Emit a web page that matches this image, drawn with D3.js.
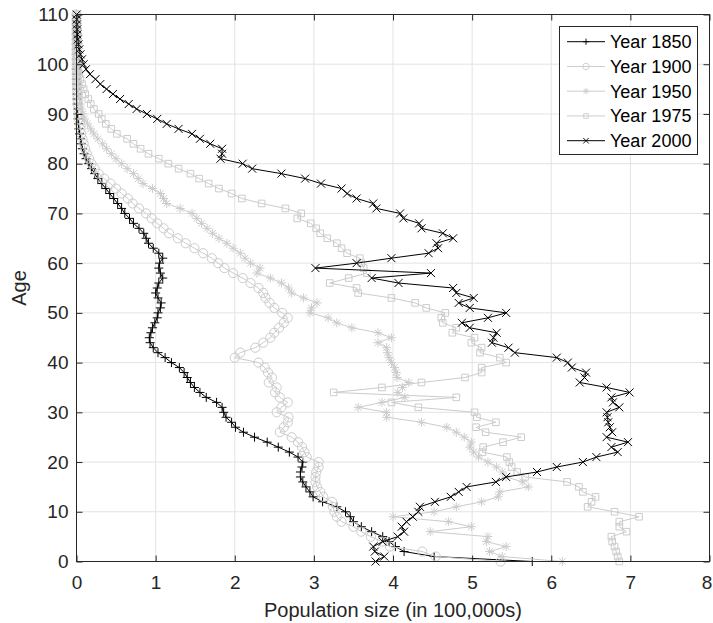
<!doctype html>
<html lang="en">
    <head>
        <meta charset="utf-8">
        <title>Population by age</title>
        <script type="text/javascript" src="https://cdn.jsdelivr.net/npm/d3@7"></script>
        <style>
            body { margin: 0; background: #fff; }
            text { font-family: "Liberation Sans", Arial, Helvetica, sans-serif; }
        </style>
    </head>
    <body>
        <script type="text/javascript">
            // ages 0..110, one value per age (population in 100,000s)
            var ages = d3.range(0, 111);

            var pop1850 = [5.76, 4.52, 4.14, 4.03, 3.95, 3.87, 3.73, 3.60, 3.50, 3.46,
                           3.40, 3.29, 3.11, 2.99, 2.95, 2.90, 2.86, 2.83, 2.83, 2.85,
                           2.86, 2.80, 2.69, 2.55, 2.41, 2.25, 2.11, 2.01, 1.96, 1.89,
                           1.86, 1.84, 1.77, 1.64, 1.56, 1.49, 1.44, 1.40, 1.36, 1.30,
                           1.20, 1.12, 1.03, 0.97, 0.93, 0.92, 0.94, 0.96, 0.99, 1.02,
                           1.03, 1.06, 1.07, 1.03, 1.00, 1.02, 1.04, 1.09, 1.06, 1.04,
                           1.05, 1.09, 1.04, 0.97, 0.91, 0.88, 0.85, 0.79, 0.72, 0.67,
                           0.61, 0.57, 0.52, 0.47, 0.42, 0.37, 0.32, 0.27, 0.23, 0.19,
                           0.155, 0.12, 0.095, 0.075, 0.06, 0.05, 0.04, 0.03, 0.025, 0.02,
                           0.015, 0.012, 0.009, 0.007, 0.005, 0.004, 0.003, 0.002, 0.002, 0.001,
                           0.001, 0.001, 0.001, 0, 0, 0, 0, 0, 0, 0, 0];

            var pop1900 = [5.36, 4.54, 4.37, 3.96, 3.86, 3.72, 3.60, 3.50, 3.35, 3.29,
                           3.26, 3.24, 3.23, 3.12, 3.08, 3.04, 3.02, 3.02, 3.03, 3.06,
                           3.06, 2.91, 2.88, 2.85, 2.80, 2.72, 2.57, 2.62, 2.67, 2.68,
                           2.53, 2.59, 2.67, 2.57, 2.51, 2.53, 2.43, 2.47, 2.42, 2.38,
                           2.30, 2.00, 2.07, 2.26, 2.36, 2.45, 2.50, 2.56, 2.62, 2.67,
                           2.60, 2.50, 2.44, 2.39, 2.36, 2.30, 2.20, 2.10, 1.98, 1.87,
                           1.79, 1.71, 1.60, 1.49, 1.38, 1.28, 1.17, 1.10, 1.02, 0.95,
                           0.88, 0.79, 0.71, 0.65, 0.57, 0.50, 0.43, 0.35, 0.28, 0.23,
                           0.19, 0.16, 0.13, 0.11, 0.09, 0.075, 0.06, 0.05, 0.04, 0.03,
                           0.025, 0.02, 0.015, 0.011, 0.008, 0.006, 0.004, 0.003, 0.002, 0.001,
                           0.001, 0.001, 0, 0, 0, 0, 0, 0, 0, 0, 0];

            var pop1950 = [6.14, 5.38, 5.22, 5.43, 5.18, 5.20, 4.47, 4.99, 4.70, 4.00,
                           4.52, 4.80, 5.12, 5.33, 5.35, 5.71, 5.64, 5.43, 5.38, 5.31,
                           5.20, 5.08, 5.02, 4.97, 4.99, 4.90, 4.80, 4.68, 4.36, 3.92,
                           3.92, 3.56, 3.86, 4.15, 4.06, 4.12, 4.20, 4.05, 4.04, 4.02,
                           3.98, 3.95, 3.93, 3.92, 3.81, 3.98, 3.81, 3.48, 3.29, 3.18,
                           2.95, 2.97, 3.04, 2.87, 2.72, 2.68, 2.59, 2.45, 2.28, 2.32,
                           2.20, 2.13, 2.07, 1.98, 1.90, 1.80, 1.72, 1.65, 1.58, 1.52,
                           1.46, 1.31, 1.14, 1.10, 1.06, 0.96, 0.84, 0.78, 0.72, 0.64,
                           0.57, 0.50, 0.44, 0.38, 0.33, 0.27, 0.22, 0.18, 0.14, 0.10,
                           0.08, 0.06, 0.045, 0.035, 0.025, 0.018, 0.012, 0.008, 0.005, 0.003,
                           0.002, 0.001, 0, 0, 0, 0, 0, 0, 0, 0, 0];

            var pop1975 = [6.86, 6.84, 6.82, 6.80, 6.77, 6.76, 6.95, 6.86, 6.86, 7.11,
                           6.80, 6.46, 6.51, 6.56, 6.40, 6.35, 6.20, 5.67, 5.57, 5.50,
                           5.47, 5.44, 5.13, 5.14, 5.39, 5.62, 5.17, 5.05, 5.30, 5.06,
                           5.03, 4.32, 3.98, 4.80, 3.25, 3.86, 4.36, 4.91, 5.12, 5.12,
                           5.43, 5.35, 5.10, 5.12, 4.99, 5.03, 4.75, 4.80, 4.63, 4.61,
                           4.66, 4.42, 4.28, 3.98, 3.56, 3.54, 3.20, 3.44, 3.67, 3.63,
                           3.60, 3.58, 3.42, 3.35, 3.29, 3.17, 3.08, 3.03, 2.96, 2.79,
                           2.84, 2.64, 2.34, 2.09, 1.96, 1.80, 1.67, 1.55, 1.44, 1.29,
                           1.16, 1.04, 0.91, 0.81, 0.72, 0.64, 0.51, 0.44, 0.37, 0.32,
                           0.28, 0.22, 0.18, 0.15, 0.11, 0.09, 0.07, 0.05, 0.035, 0.025,
                           0.017, 0.011, 0.007, 0.004, 0.002, 0.001, 0, 0, 0, 0, 0];

            var pop2000 = [3.78, 3.89, 3.77, 3.75, 3.87, 4.06, 4.14, 4.11, 4.17, 4.25,
                           4.32, 4.34, 4.53, 4.73, 4.83, 4.93, 5.30, 5.43, 5.82, 6.07,
                           6.40, 6.57, 6.84, 6.76, 6.97, 6.70, 6.77, 6.74, 6.72, 6.71,
                           6.70, 6.86, 6.78, 6.76, 6.99, 6.70, 6.36, 6.42, 6.44, 6.26,
                           6.21, 6.07, 5.54, 5.46, 5.25, 5.27, 5.31, 4.97, 4.87, 5.20,
                           5.43, 4.97, 4.83, 5.02, 4.80, 4.76, 4.07, 3.73, 4.48, 3.02,
                           3.54, 3.98, 4.45, 4.57, 4.55, 4.76, 4.63, 4.36, 4.33, 4.13,
                           4.09, 3.79, 3.75, 3.54, 3.42, 3.35, 3.09, 2.89, 2.59, 2.22,
                           2.10, 1.82, 1.84, 1.84, 1.69, 1.56, 1.46, 1.29, 1.14, 1.02,
                           0.89, 0.76, 0.66, 0.55, 0.46, 0.38, 0.30, 0.24, 0.17, 0.12,
                           0.09, 0.07, 0.05, 0.035, 0.025, 0.017, 0.012, 0.008, 0.005, 0.003,
                           0.002];

            var years = ["Year 1850", "Year 1900", "Year 1950", "Year 1975", "Year 2000"];
            var xTicks = [0, 1, 2, 3, 4, 5, 6, 7, 8];
            var yTicks = [0, 10, 20, 30, 40, 50, 60, 70, 80, 90, 100, 110];

            var svgW = 713;
            var svgH = 623;
            var padding = {top: 14.5, right: 3.5, bottom: 61.5, left: 76.5};
            var w = svgW - padding.left - padding.right;
            var h = svgH - padding.top - padding.bottom;

            var axisColor = "#262626";
            var gray = "#cccccc";

            var markers = {
                plus:   "M-4.5,0H4.5M0,-4.5V4.5",
                circle: "M4.6,0A4.6,4.6 0 1,1 -4.6,0A4.6,4.6 0 1,1 4.6,0Z",
                star:   "M-4.5,0H4.5M0,-4.5V4.5M-3.3,-3.3L3.3,3.3M-3.3,3.3L3.3,-3.3",
                square: "M-3.3,-3.3H3.3V3.3H-3.3Z",
                cross:  "M-4,-4L4,4M-4,4L4,-4"
            };

            var series = [
                {name: years[0], values: pop1850, color: "#000000", marker: "plus"},
                {name: years[1], values: pop1900, color: gray, marker: "circle"},
                {name: years[2], values: pop1950, color: gray, marker: "star"},
                {name: years[3], values: pop1975, color: gray, marker: "square"},
                {name: years[4], values: pop2000, color: "#000000", marker: "cross"}
            ];
            series.forEach(s => {
                s.points = s.values.map((v, i) => ({age: ages[i], value: v}));
            });

            var xScale = d3.scaleLinear()
                           .domain([0, 8])
                           .range([0, w]);

            var yScale = d3.scaleLinear()
                           .domain([0, 110])
                           .range([h, 0]);

            var svg = d3.select("body")
                        .append("svg")
                        .attr("width", svgW)
                        .attr("height", svgH)
                        .append("g")
                        .attr("transform", "translate(" + padding.left + "," + padding.top + ")");

            // grid
            svg.append("g")
               .selectAll("line.gx")
               .data(xTicks)
               .enter()
               .append("line")
               .attr("x1", d => xScale(d))
               .attr("x2", d => xScale(d))
               .attr("y1", 0)
               .attr("y2", h)
               .attr("stroke", "#e3e3e3");

            svg.append("g")
               .selectAll("line.gy")
               .data(yTicks)
               .enter()
               .append("line")
               .attr("x1", 0)
               .attr("x2", w)
               .attr("y1", d => yScale(d))
               .attr("y2", d => yScale(d))
               .attr("stroke", "#e3e3e3");

            // series
            var line = d3.line()
                         .x(d => xScale(d.value))
                         .y(d => yScale(d.age));

            var groups = svg.selectAll("g.series")
                            .data(series)
                            .enter()
                            .append("g")
                            .attr("class", "series");

            groups.append("path")
                  .attr("d", d => line(d.points))
                  .attr("fill", "none")
                  .attr("stroke", d => d.color)
                  .attr("stroke-width", 1);

            groups.each(function (s) {
                d3.select(this)
                  .selectAll("path.m")
                  .data(s.points)
                  .enter()
                  .append("path")
                  .attr("class", "m")
                  .attr("d", markers[s.marker])
                  .attr("transform", d => "translate(" + xScale(d.value) + "," + yScale(d.age) + ")")
                  .attr("fill", "none")
                  .attr("stroke", s.color)
                  .attr("stroke-width", 1);
            });

            // axes (ticks inward on all four sides)
            var xAxis = d3.axisBottom(xScale)
                          .tickValues(xTicks)
                          .tickSize(-6)
                          .tickPadding(14);
            var yAxis = d3.axisLeft(yScale)
                          .tickValues(yTicks)
                          .tickSize(-6)
                          .tickPadding(8);

            var xg = svg.append("g")
                        .attr("transform", "translate(0," + h + ")")
                        .call(xAxis);
            var yg = svg.append("g")
                        .call(yAxis);
            var tg = svg.append("g")
                        .call(d3.axisTop(xScale).tickValues(xTicks).tickSize(-6).tickFormat(""));
            var rg = svg.append("g")
                        .attr("transform", "translate(" + w + ",0)")
                        .call(d3.axisRight(yScale).tickValues(yTicks).tickSize(-6).tickFormat(""));

            [xg, yg, tg, rg].forEach(g => {
                g.select(".domain").remove();
                g.selectAll("line").attr("stroke", axisColor);
                g.selectAll("text")
                 .attr("fill", axisColor)
                 .style("font-size", "19px")
                 .style("font-family", "'Liberation Sans', Arial, sans-serif");
            });

            // last x label sits against the right edge
            xg.selectAll(".tick text")
              .filter(d => d === 8)
              .attr("dx", -3);

            svg.append("rect")
               .attr("x", 0)
               .attr("y", 0)
               .attr("width", w)
               .attr("height", h)
               .attr("fill", "none")
               .attr("stroke", axisColor)
               .attr("stroke-width", 1);

            // labels
            svg.append("text")
               .attr("x", w / 2)
               .attr("y", h + 55)
               .attr("text-anchor", "middle")
               .attr("fill", axisColor)
               .style("font-size", "20px")
               .text("Population size (in 100,000s)");

            svg.append("text")
               .attr("transform", "translate(" + (26 - padding.left) + "," + (h / 2) + ") rotate(-90)")
               .attr("text-anchor", "middle")
               .attr("fill", axisColor)
               .style("font-size", "20px")
               .text("Age");

            // legend
            var legend = svg.append("g")
                            .attr("transform", "translate(" + (559.5 - padding.left) + "," + (26.5 - padding.top) + ")");

            legend.append("rect")
                  .attr("width", 138)
                  .attr("height", 128)
                  .attr("fill", "#ffffff")
                  .attr("stroke", axisColor)
                  .attr("stroke-width", 1);

            var items = legend.selectAll("g.item")
                              .data(series)
                              .enter()
                              .append("g")
                              .attr("class", "item")
                              .attr("transform", (_, i) => "translate(0," + (15.2 + i * 24.75) + ")");

            items.append("line")
                 .attr("x1", 7.5)
                 .attr("x2", 45.5)
                 .attr("stroke", d => d.color)
                 .attr("stroke-width", 1);

            items.append("path")
                 .attr("d", d => markers[d.marker])
                 .attr("transform", "translate(26.5,0) scale(0.7)")
                 .attr("fill", "none")
                 .attr("stroke", d => d.color)
                 .attr("stroke-width", 1.3);

            items.append("text")
                 .attr("x", 50.5)
                 .attr("dy", "0.35em")
                 .attr("fill", "#000000")
                 .style("font-size", "18px")
                 .text(d => d.name);
        </script>
    </body>
</html>
